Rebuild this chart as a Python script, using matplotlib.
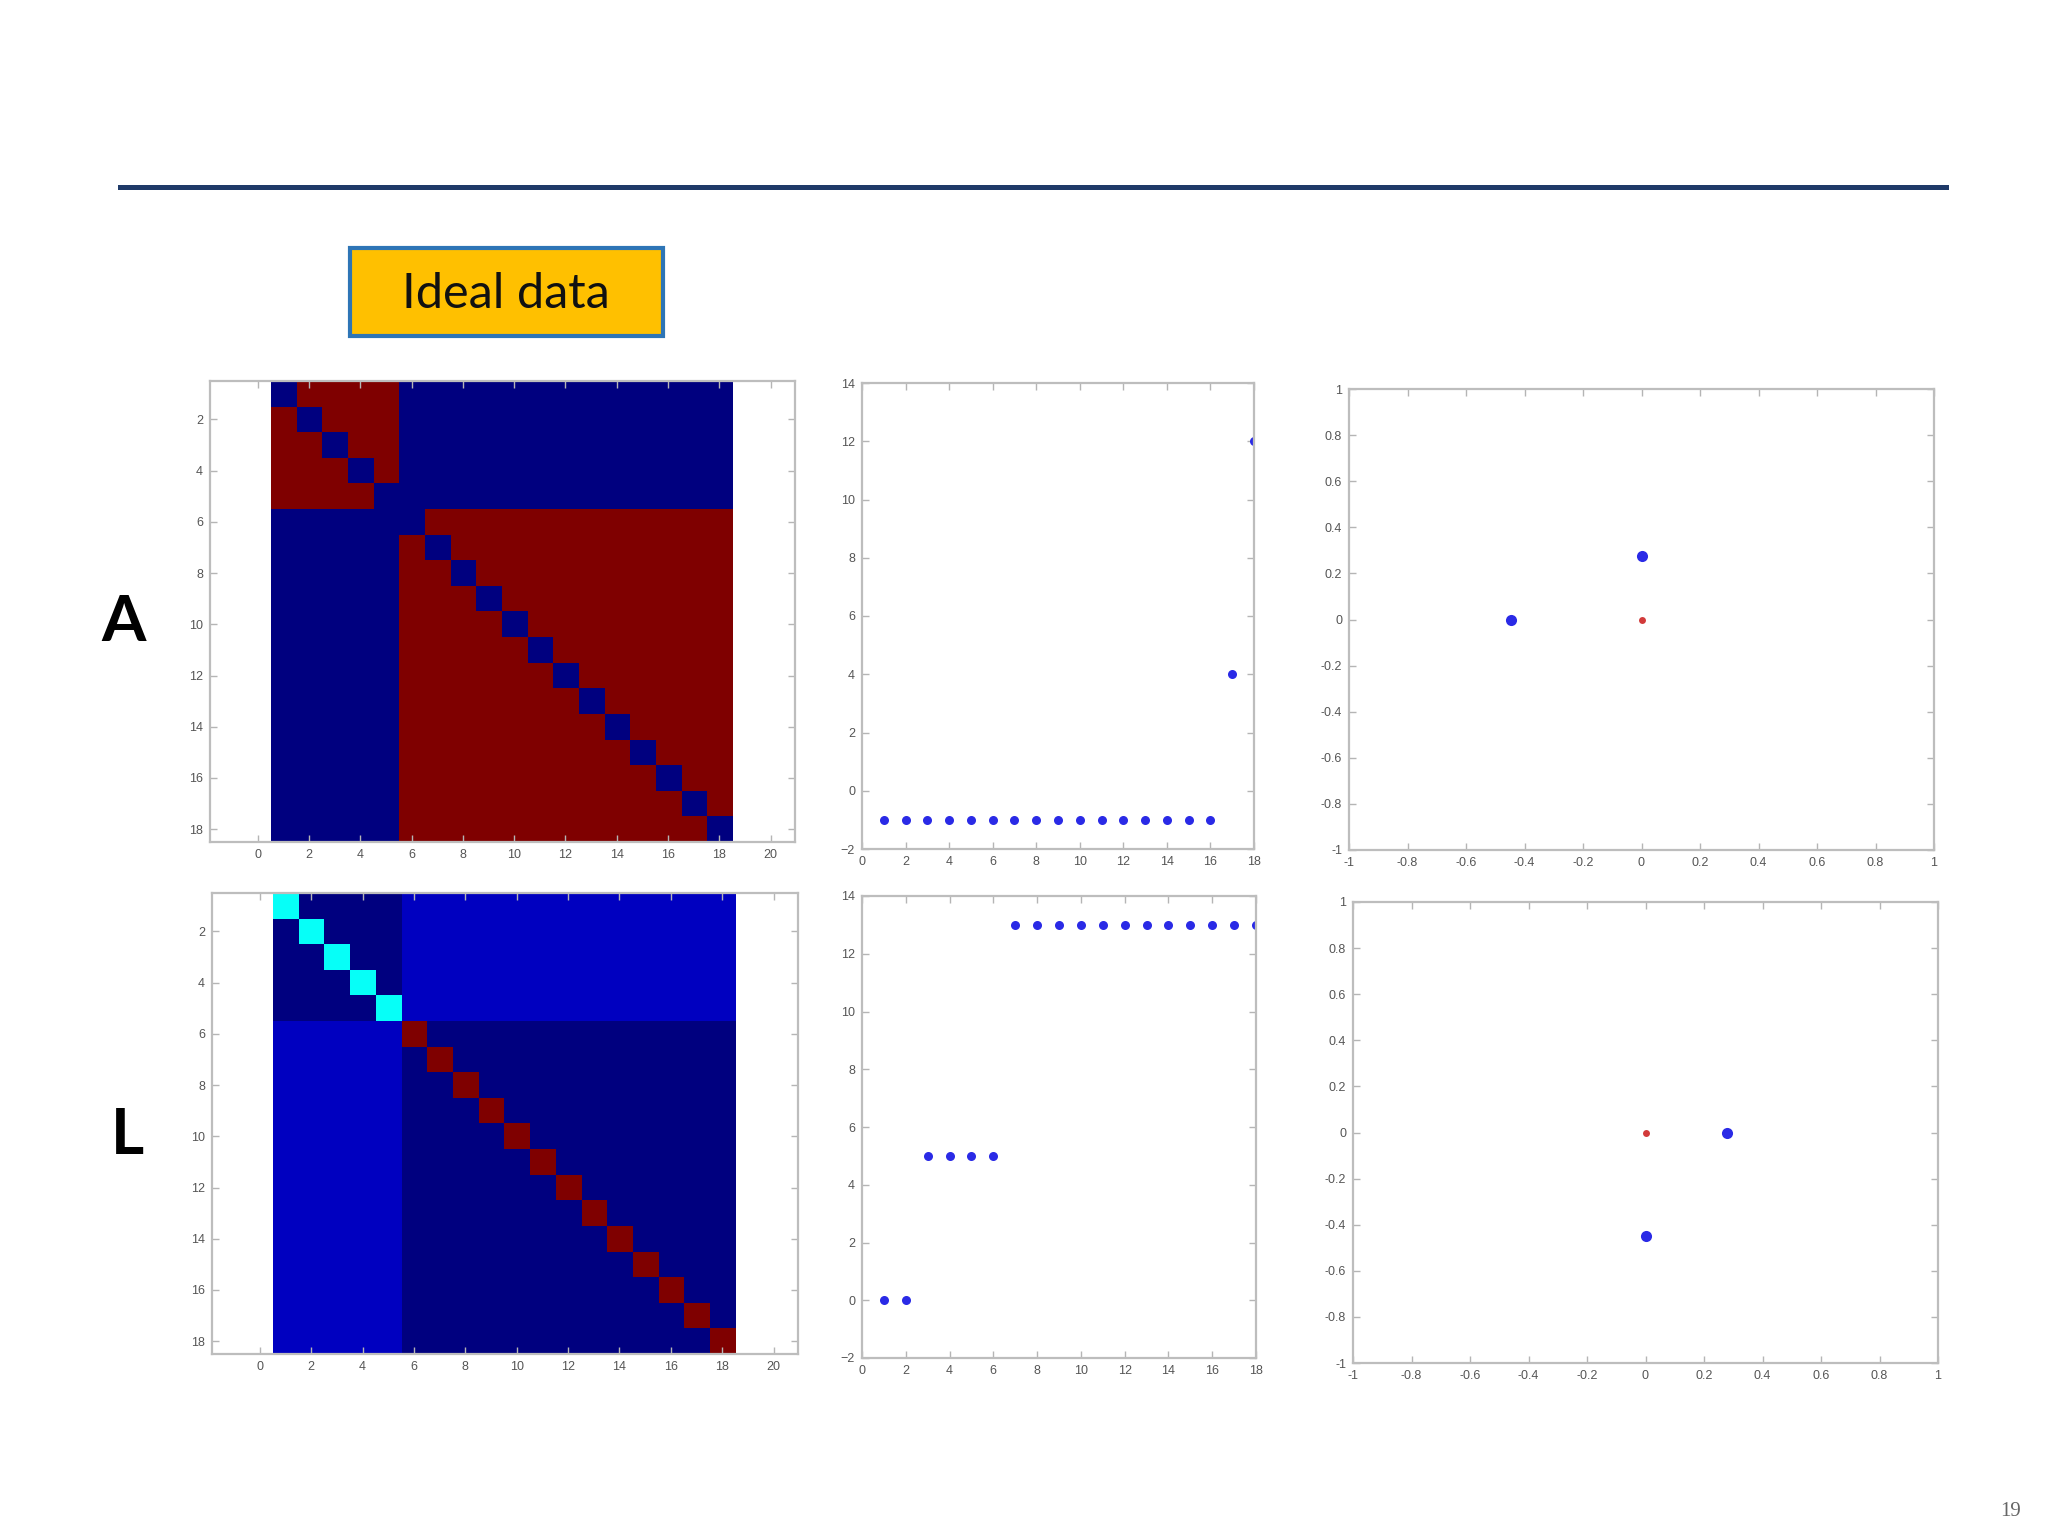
import numpy as np
import matplotlib.pyplot as plt
from matplotlib.patches import Rectangle
from matplotlib.lines import Line2D
from matplotlib.colors import LinearSegmentedColormap

# cluster of each of the 18 nodes (ideal data: two groups, 5 and 13 nodes)
node_cluster = [1, 1, 1, 1, 1, 2, 2, 2, 2, 2, 2, 2, 2, 2, 2, 2, 2, 2]

# sorted eigenvalues of A and of L
eig_A = [-1, -1, -1, -1, -1, -1, -1, -1, -1, -1, -1, -1, -1, -1, -1, -1, 4, 12]
eig_L = [0, 0, 5, 5, 5, 5, 13, 13, 13, 13, 13, 13, 13, 13, 13, 13, 13, 13]

# eigenvector coordinates (blue points) and origin (red point)
vecA_x = [-0.447, 0.0]
vecA_y = [0.0, 0.277]
vecL_x = [0.277, 0.0]
vecL_y = [0.0, -0.447]
origin_x = [0.0]
origin_y = [0.0]

row_labels = ['A', 'L']
badge_text = 'Ideal data'
page_no = '19'
vec_ticks = [-1, -0.8, -0.6, -0.4, -0.2, 0, 0.2, 0.4, 0.6, 0.8, 1]
vec_ticklabels = ['-1', '-0.8', '-0.6', '-0.4', '-0.2', '0', '0.2', '0.4', '0.6', '0.8', '1']

# adjacency and laplacian from the cluster labels
lab = np.array(node_cluster)
A = (lab[:, None] == lab[None, :]).astype(float)
np.fill_diagonal(A, 0)
L = np.diag(A.sum(axis=1)) - A

# matlab style jet
mjet = LinearSegmentedColormap('mjet', {
    'red':   [(0, 0, 0), (3/8, 0, 0), (5/8, 1, 1), (7/8, 1, 1), (1, 0.5, 0.5)],
    'green': [(0, 0, 0), (1/8, 0, 0), (3/8, 1, 1), (5/8, 1, 1), (7/8, 0, 0), (1, 0, 0)],
    'blue':  [(0, 0.5, 0.5), (1/8, 1, 1), (3/8, 1, 1), (5/8, 0, 0), (1, 0, 0)],
}, N=64)

W, H = 2048, 1536
fig = plt.figure(figsize=(W / 100, H / 100), dpi=100)
fig.patch.set_facecolor('white')


def box(x0, y0, x1, y1):
    # pixel box -> figure fraction
    return [x0 / W, 1 - y1 / H, (x1 - x0) / W, (y1 - y0) / H]


def matlab_style(ax):
    for s in ax.spines.values():
        s.set_color('#bdbdbd')
        s.set_linewidth(1.6)
    ax.tick_params(direction='in', top=True, right=True, length=5, width=1,
                   color='#b5b5b5', labelsize=9, labelcolor='#555555', pad=5)
    for t in ax.get_xticklabels() + ax.get_yticklabels():
        t.set_family('Liberation Sans')


# --- matrices ---
for mat, pos in [(A, (210, 381, 795, 842)), (L, (212, 893, 798, 1354))]:
    ax = fig.add_axes(box(*pos))
    ax.imshow(mat, cmap=mjet, extent=(0.5, 18.5, 18.5, 0.5),
              interpolation='nearest', aspect='auto')
    ax.set_xlim(-1.86, 20.95)
    ax.set_ylim(18.5, 0.5)
    ax.set_xticks(np.arange(0, 21, 2))
    ax.set_yticks(np.arange(2, 19, 2))
    matlab_style(ax)

# --- eigenvalues ---
idx = np.arange(1, 19)
for eig, pos in [(eig_A, (862, 383, 1254, 849)), (eig_L, (862, 896, 1256, 1358))]:
    ax = fig.add_axes(box(*pos))
    ax.plot(idx, eig, 'o', color='#2a2ae6', ms=6.5, mec='none')
    ax.set_xlim(0, 18)
    ax.set_ylim(-2, 14)
    ax.set_xticks(np.arange(0, 19, 2))
    ax.set_yticks(np.arange(-2, 15, 2))
    matlab_style(ax)

# --- eigenvector scatter ---
for vx, vy, pos in [(vecA_x, vecA_y, (1349, 389, 1934, 850)),
                    (vecL_x, vecL_y, (1353, 902, 1938, 1363))]:
    ax = fig.add_axes(box(*pos))
    ax.plot(vx, vy, 'o', color='#2a2ae6', ms=8, mec='none')
    ax.plot(origin_x, origin_y, 'o', color='#d23a3a', ms=5, mec='none')
    ax.set_xlim(-1, 1)
    ax.set_ylim(-1, 1)
    ax.set_xticks(vec_ticks)
    ax.set_yticks(vec_ticks)
    ax.set_xticklabels(vec_ticklabels)
    ax.set_yticklabels(vec_ticklabels)
    matlab_style(ax)

# --- slide decorations ---
fig.add_artist(Line2D([120 / W, 1946 / W], [1 - 187 / H, 1 - 187 / H],
                      color='#1f3a68', lw=3.6))
fig.add_artist(Rectangle((350 / W, 1 - 336 / H), 313 / W, 88 / H,
                         transform=fig.transFigure, facecolor='#FFC000',
                         edgecolor='#2E75B6', lw=3))
fig.text(506 / W, 1 - 294 / H, badge_text, ha='center', va='center',
         fontsize=35, family=['Lato', 'DejaVu Sans'], color='#111111')

fig.text(124 / W, 1 - 622 / H, row_labels[0], ha='center', va='center',
         fontsize=46, fontweight='bold', family=['Lato', 'DejaVu Sans'])
fig.text(127 / W, 1 - 1136 / H, row_labels[1], ha='center', va='center',
         fontsize=46, fontweight='bold', family=['Lato', 'DejaVu Sans'])

fig.text(2011 / W, 1 - 1512 / H, page_no, ha='center', va='center',
         fontsize=15, family=['Liberation Serif', 'DejaVu Serif'], color='#666666')

fig.savefig('out.png', dpi=100)
